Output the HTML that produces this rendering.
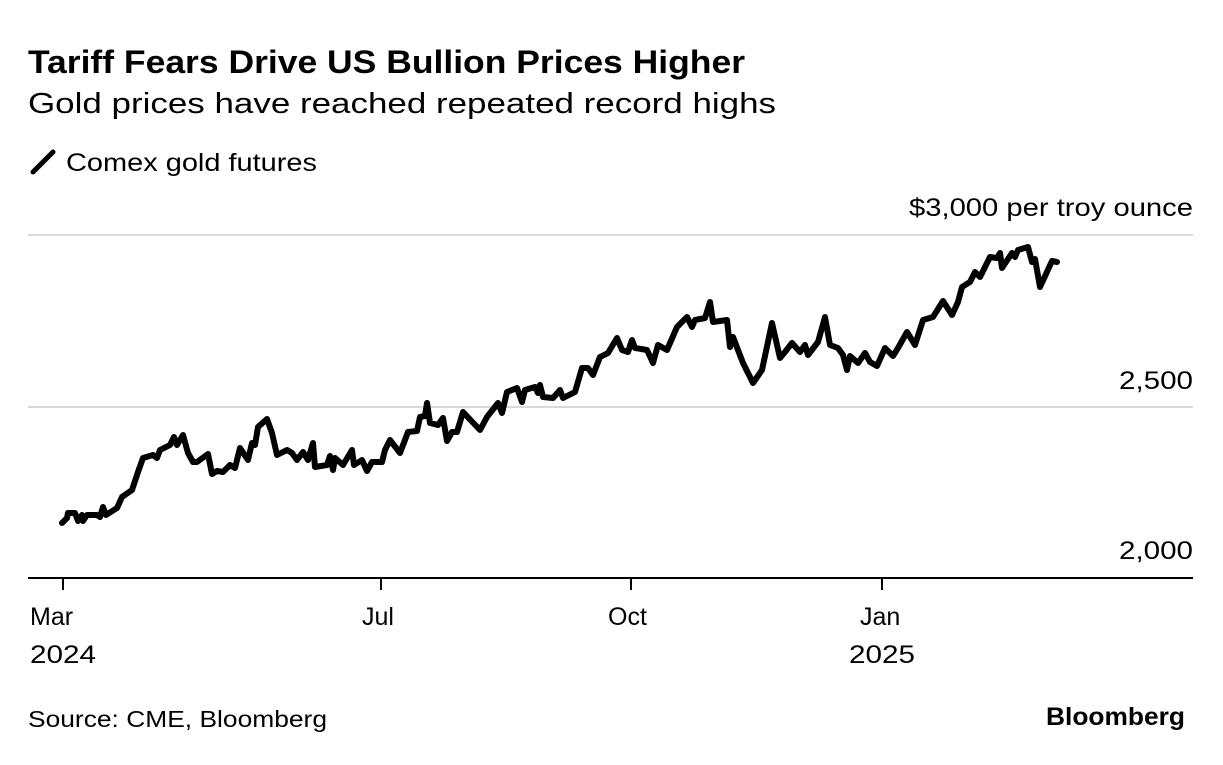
<!DOCTYPE html>
<html><head><meta charset="utf-8"><style>
body{margin:0;background:#fff;width:1223px;height:760px;overflow:hidden;font-family:"Liberation Sans",sans-serif;color:#000}
</style></head><body>
<svg width="1223" height="760" xmlns="http://www.w3.org/2000/svg" font-family="Liberation Sans, sans-serif">
<text x="28" y="73" font-size="32" font-weight="bold" textLength="717" lengthAdjust="spacingAndGlyphs">Tariff Fears Drive US Bullion Prices Higher</text>
<text x="28" y="113" font-size="29" textLength="748" lengthAdjust="spacingAndGlyphs">Gold prices have reached repeated record highs</text>
<line x1="33" y1="172" x2="53" y2="152" stroke="#000" stroke-width="5" stroke-linecap="round"/>
<text x="66" y="171" font-size="25" textLength="251" lengthAdjust="spacingAndGlyphs">Comex gold futures</text>
<line x1="28" y1="235" x2="1193" y2="235" stroke="#d9d9d9" stroke-width="2"/>
<line x1="28" y1="407" x2="1193" y2="407" stroke="#d9d9d9" stroke-width="2"/>
<line x1="28" y1="578" x2="1193" y2="578" stroke="#000" stroke-width="2"/>
<g text-anchor="end" font-size="25">
<text x="1193" y="216" textLength="284" lengthAdjust="spacingAndGlyphs">$3,000 per troy ounce</text>
<text x="1193" y="389" textLength="74" lengthAdjust="spacingAndGlyphs">2,500</text>
<text x="1193" y="559" textLength="74" lengthAdjust="spacingAndGlyphs">2,000</text>
</g>
<g stroke="#000" stroke-width="2"><line x1="63" y1="578" x2="63" y2="590"/><line x1="381" y1="578" x2="381" y2="590"/><line x1="631" y1="578" x2="631" y2="590"/><line x1="882" y1="578" x2="882" y2="590"/></g>
<g font-size="25">
<text x="30" y="625">Mar</text><text x="30" y="663" textLength="66" lengthAdjust="spacingAndGlyphs">2024</text>
<text x="362" y="625">Jul</text>
<text x="608" y="625">Oct</text>
<text x="860" y="625">Jan</text><text x="849" y="663" textLength="66" lengthAdjust="spacingAndGlyphs">2025</text>
</g>
<polyline fill="none" stroke="#000" stroke-width="6" stroke-linejoin="round" stroke-linecap="round" points="62,523 67,518 68,513 75,513 78,521 82,515 83,521 87,515 97,515 100,517 103,507 106,515 117,508 122,497 132,490 138,472 143,458 153,455 157,458 160,450 170,445 174,437 177,445 183,435 188,453 193,462 197,462 208,454 212,474 217,471 223,472 230,465 235,468 240,448 248,460 252,443 255,445 258,427 267,419 272,433 277,455 287,450 292,453 297,460 303,452 308,460 313,443 315,467 327,465 330,456 333,470 335,458 343,465 352,450 354,465 362,460 367,471 372,462 382,462 385,450 390,440 400,453 408,432 417,431 420,417 425,416 427,403 430,423 438,425 443,418 447,441 452,432 457,432 463,412 480,430 487,417 498,403 502,413 507,392 517,388 522,402 525,390 535,387 538,393 540,385 543,397 553,398 560,390 563,398 575,392 582,368 588,368 593,375 600,357 608,353 617,338 622,350 628,352 632,340 635,348 647,350 653,363 658,345 667,350 677,327 687,317 692,327 695,320 705,318 710,302 713,322 727,320 730,347 733,337 743,363 753,383 762,370 772,323 780,358 785,352 792,343 800,352 805,345 808,355 818,342 825,317 830,345 838,348 843,355 847,370 850,356 858,363 865,353 870,362 877,366 885,348 893,356 898,348 907,332 915,345 923,320 933,317 943,301 952,315 958,302 962,287 970,282 975,272 980,277 990,257 997,258 1000,253 1002,268 1012,253 1015,257 1018,250 1028,247 1032,262 1035,259 1040,287 1052,261 1057,262"/>
<text x="28" y="727" font-size="23" textLength="299" lengthAdjust="spacingAndGlyphs">Source: CME, Bloomberg</text>
<text x="1185" y="725" font-size="25" font-weight="bold" text-anchor="end" textLength="139" lengthAdjust="spacingAndGlyphs">Bloomberg</text>
</svg>
</body></html>
